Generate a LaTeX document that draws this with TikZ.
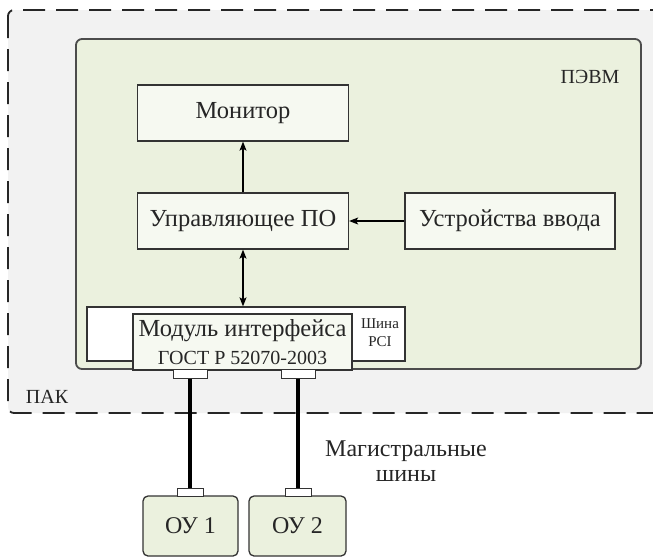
\documentclass[tikz,border=0pt]{standalone}
\usepackage{fontspec}
\setmainfont{Liberation Serif}
\usepackage{tikz}
\usetikzlibrary{arrows.meta,positioning}

\definecolor{pakgray}{HTML}{F2F2F2}
\definecolor{pevmgreen}{HTML}{EBF1DE}
\definecolor{boxgreen}{HTML}{F6F9F1}
\definecolor{edgegray}{HTML}{333333}

\begin{document}
\begin{tikzpicture}[x=1pt,y=-1pt,->,>={Stealth[length=9pt,width=7pt,inset=2pt]},auto,node distance=267pt,
                    line width=1.2pt,text=black!85]
  \tikzstyle{block}=[rectangle,draw=edgegray,fill=boxgreen,line width=1.3pt,minimum width=211pt,minimum height=56pt,font=\fontsize{24.5}{27}\selectfont]
  \tikzstyle{tab}=[rectangle,draw=edgegray,fill=white,line width=1pt,inner sep=0pt,minimum width=34pt,minimum height=9pt]
  \tikzstyle{ou}=[block,rounded corners=5pt,fill=pevmgreen,minimum width=95pt,minimum height=60pt,font=\fontsize{24}{26}\selectfont]
  \tikzstyle{bus}=[-,line width=4pt,black]
  \tikzstyle{caption}=[font=\fontsize{20}{22}\selectfont]

  \useasboundingbox (0,0) rectangle (653,558);
  \draw[-,fill=pakgray,draw=black!85,line width=1.8pt,dash pattern=on 22pt off 11pt,rounded corners=6pt] (8,10) rectangle (670,413);
  \draw[-,fill=pevmgreen,draw=black!70,line width=1.8pt,rounded corners=6pt] (76,39) rectangle (641,369);

  \node[caption] (pevm) at (590,77) {ПЭВМ};
  \node[caption] (pak) at (47,397) {ПАК};

  \node[block] (monitor) at (243,113) {Монитор};
  \node[block] (upo)     at (243,221)   {Управляющее ПО};
  \node[block,minimum width=210pt] (vvod) [right of=upo] {Устройства ввода};

  \node[block,fill=white,minimum width=318pt,minimum height=54pt] (pci) at (246,334) {};
  \node[font=\fontsize{15}{18}\selectfont,align=center] (shina) at (380,333) {Шина\\PCI};
  \node[block,minimum width=219pt,minimum height=56pt,align=center,inner sep=0pt] (module) at (242.5,342)
       {Модуль интерфейса\\[1pt]{\fontsize{20}{20}\selectfont ГОСТ Р 52070-2003}};

  \node[tab] (t1) at (190,373.5) {};
  \node[tab] (t2) at (298,373.5) {};

  \node[ou] (ou1) at (190.5,526) {ОУ 1};
  \node[ou,minimum width=97pt] (ou2) at (297.5,526) {ОУ 2};
  \node[tab,minimum width=26pt,minimum height=8pt] (s1) at (190,492) {};
  \node[tab,minimum width=26pt,minimum height=8pt] (s2) at (298,492) {};

  \node[font=\fontsize{24}{25}\selectfont,align=center] (mag) at (406,461) {Магистральные\\шины};

  \path (upo) edge (monitor)
        (vvod) edge (upo);
  \draw[<->] (upo.south) -- (upo.south |- pci.north);

  \draw[bus] (t1) -- (s1);
  \draw[bus] (t2) -- (s2);
\end{tikzpicture}
\end{document}
